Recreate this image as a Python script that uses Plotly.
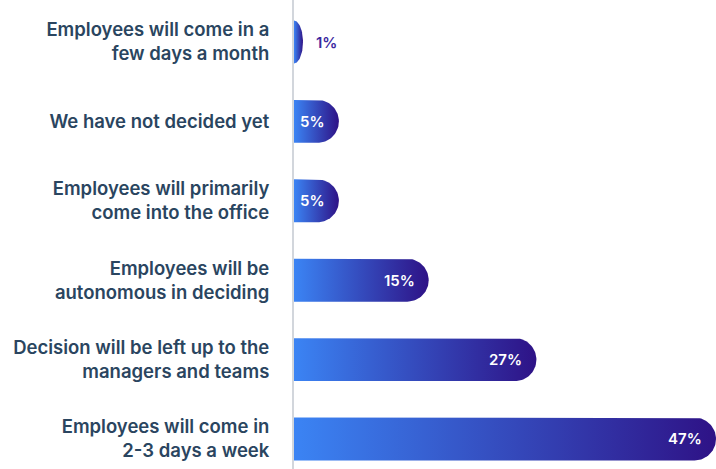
import math
import plotly.graph_objects as go

# Survey answers, top to bottom
categories = [
    "Employees will come in a<br>few days a month",
    "We have not decided yet",
    "Employees will primarily<br>come into the office",
    "Employees will be<br>autonomous in deciding",
    "Decision will be left up to the<br>managers and teams",
    "Employees will come in<br>2-3 days a week",
]
values = [1, 5, 5, 15, 27, 47]
value_labels = ["1%", "5%", "5%", "15%", "27%", "47%"]

GRADIENT = [[0, "rgb(59,132,244)"], [1, "rgb(46,18,134)"]]

WIDTH, HEIGHT = 716, 469
MARGIN_L = 294
X_RANGE = [0, 47]
Y_RANGE = [5.378, -0.529]
BAR_HALF = 0.27  # half bar thickness, in category units

# axis scale (pixels per data unit), used to keep the bar caps circular
px_x = (WIDTH - MARGIN_L) / (X_RANGE[1] - X_RANGE[0])
px_y = HEIGHT / abs(Y_RANGE[0] - Y_RANGE[1])
cap_rx = BAR_HALF * px_y / px_x

positions = list(range(len(categories)))

fig = go.Figure()

for pos, v in zip(positions, values):
    rx = min(cap_rx, v)
    xs_flat = v - rx
    xs = [0, xs_flat]
    ys = [pos - BAR_HALF, pos - BAR_HALF]
    steps = 40
    for i in range(steps + 1):
        a = -math.pi / 2 + math.pi * i / steps
        xs.append(xs_flat + rx * math.cos(a))
        ys.append(pos + BAR_HALF * math.sin(a))
    xs += [xs_flat, 0, 0]
    ys += [pos + BAR_HALF, pos + BAR_HALF, pos - BAR_HALF]
    fig.add_trace(go.Scatter(
        x=xs, y=ys,
        mode="lines",
        line=dict(width=0),
        fill="toself",
        fillgradient=dict(type="horizontal", colorscale=GRADIENT),
        hoverinfo="skip",
        showlegend=False,
    ))

# Value labels: white inside the bar, purple beside the smallest bar
for pos, v, lab in zip(positions, values, value_labels):
    inside = v >= 3
    fig.add_annotation(
        x=v, y=pos, xref="x", yref="y",
        text=lab,
        showarrow=False,
        xanchor="right" if inside else "left",
        xshift=-12 if inside else 11,
        font=dict(family="Inter", size=15, weight=600,
                  color="white" if inside else "#3b28a0"),
    )

fig.update_layout(
    width=WIDTH, height=HEIGHT,
    margin=dict(l=MARGIN_L, r=0, t=0, b=0),
    paper_bgcolor="white",
    plot_bgcolor="white",
    font=dict(family="Inter"),
)

fig.update_xaxes(
    range=X_RANGE,
    visible=False,
    fixedrange=True,
)

fig.update_yaxes(
    range=Y_RANGE,
    tickvals=positions,
    ticktext=categories,
    tickfont=dict(family="Inter", size=18.5, color="#2a4560", weight=600),
    ticks="",
    ticklabelstandoff=19,
    showline=True,
    linecolor="#d2d6dc",
    linewidth=2,
    showgrid=False,
    zeroline=False,
    fixedrange=True,
)

fig.write_html("out.html", config={"displayModeBar": False})
